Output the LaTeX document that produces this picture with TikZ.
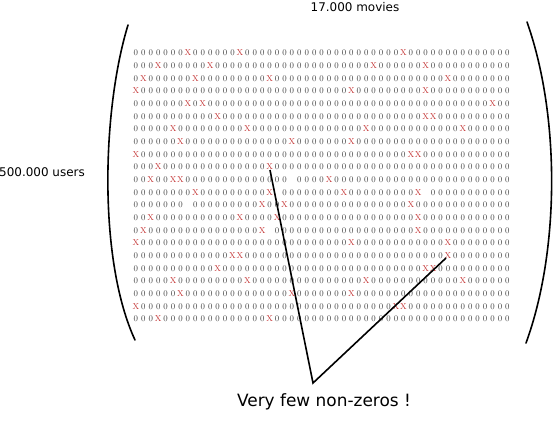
\documentclass[tikz,border=0pt]{standalone}
\usepackage{fontspec}
\newfontfamily\labelfont{DejaVu Sans}
\definecolor{xred}{RGB}{195,50,50}
\definecolor{zgray}{RGB}{60,60,60}
% one character of the matrix, fixed width
\newcommand{\cell}[1]{\makebox[7.43bp]{#1}}
\def\mrow#1{\mrowi#1\relax}
\def\mrowi#1{\ifx#1\relax\else%
  \ifx#1X\cell{\textcolor{xred}{X}}\else%
  \ifx#1-\cell{}\else\cell{\textcolor{zgray}{#1}}\fi\fi%
  \expandafter\mrowi\fi}
\begin{document}
\begin{tikzpicture}[x=1bp,y=-1bp,
    matrow/.style={anchor=west,inner sep=0pt,font=\fontsize{8.6}{10}\selectfont},
    caption/.style={inner sep=0pt,font=\labelfont\fontsize{12}{14}\selectfont},
    bracket/.style={line width=1.6bp,line cap=round},
    pointer/.style={line width=1.6bp}]
  \useasboundingbox (0,0) rectangle (553,421);

  \node[caption] (movies) at (355,7) {17.000 movies};
  \node[caption] (users) at (42,172) {500.000 users};

  % the rating matrix
  \node[matrow] (r1)  at (132,53)    {\mrow{0000000X00 0000X00000 0000000000 000000X000 0000000000 0}};
  \node[matrow] (r2)  at (132,65.7)  {\mrow{000X000000 X000000000 0000000000 00X000000X 0000000000 0}};
  \node[matrow] (r3)  at (132,78.3)  {\mrow{0X000000X0 00000000X0 0000000000 0000000000 00X0000000 0}};
  \node[matrow] (r4)  at (132,91)    {\mrow{X000000000 0000000000 000000000X 000000000X 0000000000 0}};
  \node[matrow] (r5)  at (132,103.7) {\mrow{0000000X0X 0000000000 0000000000 0000000000 00000000X0 0}};
  \node[matrow] (r6)  at (132,116.3) {\mrow{0000000000 0X00000000 0000000000 000000000X X000000000 0}};
  \node[matrow] (r7)  at (132,129)   {\mrow{00000X0000 00000X0000 0000000000 0X00000000 0000X00000 0}};
  \node[matrow] (r8)  at (132,141.7) {\mrow{000000X000 0000000000 0X0000000X 0000000000 0000000000 0}};
  \node[matrow] (r9)  at (132,154.4) {\mrow{X000000000 0000000000 0000000000 0000000XX0 0000000000 0}};
  \node[matrow] (r10) at (132,167)   {\mrow{000X000000 00000000X0 0000000000 0000000000 0000000000 0}};
  \node[matrow] (r11) at (132,179.7) {\mrow{00X00XX000 0000000000 0-0000X000 0000000000 0000000000 0}};
  \node[matrow] (r12) at (132,192.4) {\mrow{00000000X0 00000000X- 00000000X0 00000000X- 0000000000 0}};
  \node[matrow] (r13) at (132,205)   {\mrow{0000000-00 0000000X00 X000000000 0000000X00 0000000000 0}};
  \node[matrow] (r14) at (132,217.7) {\mrow{00X0000000 0000X0000X 0000000000 00000000X0 0000000000 0}};
  \node[matrow] (r15) at (132,230.4) {\mrow{0X00000000 0000000X-0 0000000000 00000000X0 0000000000 0}};
  \node[matrow] (r16) at (132,243)   {\mrow{X000000000 0000000000 000000000X 0000000000 00X0000000 0}};
  \node[matrow] (r17) at (132,255.7) {\mrow{0000000000 000XX00000 0000000000 0000000000 00X0000000 0}};
  \node[matrow] (r18) at (132,268.4) {\mrow{0000000000 0X00000000 0000000000 000000000X X000000000 0}};
  \node[matrow] (r19) at (132,281)   {\mrow{00000X0000 00000X0000 0000000000 0X00000000 0000X00000 0}};
  \node[matrow] (r20) at (132,293.7) {\mrow{000000X000 0000000000 0X0000000X 0000000000 0000000000 0}};
  \node[matrow] (r21) at (132,306.4) {\mrow{X000000000 0000000000 0000000000 00000XX000 0000000000 0}};
  \node[matrow] (r22) at (132,319)   {\mrow{000X000000 00000000X0 0000000000 0000000000 0000000000 0}};

  % big brackets
  \draw[bracket] (128,25) .. controls (102,110) and (98,260) .. (135,340);
  \draw[bracket] (527,22) .. controls (560,115) and (560,250) .. (526,343);

  % pointers to two entries
  \node[caption,font=\labelfont\fontsize{17}{20}\selectfont] (few) at (324,402) {Very few non-zeros !};
  \coordinate (hit1) at (270,170);
  \coordinate (hit2) at (446,258);
  \coordinate (vtx) at (313,383);
  \draw[pointer] (hit1) -- (vtx) -- (hit2);
\end{tikzpicture}
\end{document}
